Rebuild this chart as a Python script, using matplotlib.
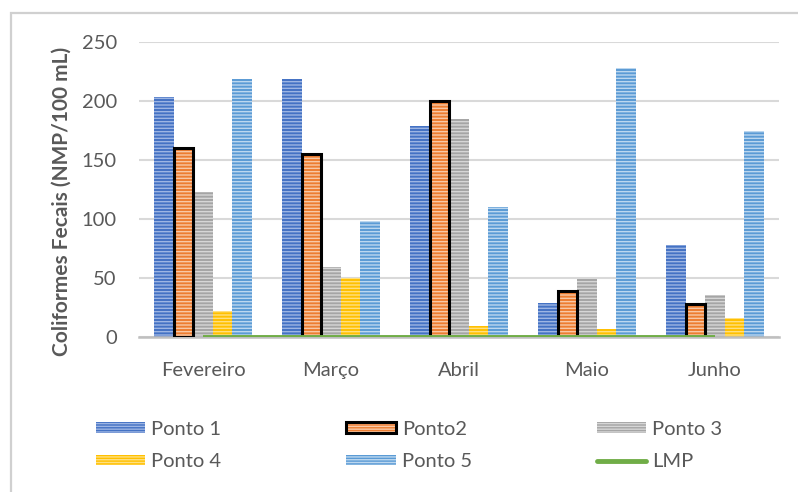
import matplotlib.pyplot as plt
import numpy as np
from matplotlib.patches import Patch, Rectangle
from matplotlib.lines import Line2D
from matplotlib.legend_handler import HandlerTuple

meses = ['Fevereiro', 'Março', 'Abril', 'Maio', 'Junho']
ponto1 = [203, 219, 179, 29, 78]
ponto2 = [160, 155, 200, 39, 28]
ponto3 = [123, 59, 185, 49, 36]
ponto4 = [22, 50, 9, 7, 16]
ponto5 = [219, 98, 110, 228, 175]
lmp = [0, 0, 0, 0, 0]

series = [
    ('Ponto 1', ponto1, '#4472c4', '#9db5e3'),
    ('Ponto2', ponto2, '#ed7d31', '#f8c8a6'),
    ('Ponto 3', ponto3, '#a5a5a5', '#d6d6d6'),
    ('Ponto 4', ponto4, '#ffc000', '#ffe080'),
    ('Ponto 5', ponto5, '#5b9bd5', '#bcd7ef'),
]

plt.rcParams['font.family'] = ['Lato', 'DejaVu Sans']
plt.rcParams['hatch.linewidth'] = 1.0
txt = '#595959'

fig = plt.figure(figsize=(7.98, 4.92), dpi=100)
ax = fig.add_axes([139/798, 1 - 337/492, 640/798, 295/492])

x = np.arange(len(meses))
w = 0.153
handles = []
for i, (name, vals, face, stripe) in enumerate(series):
    pos = x + (i - 2) * w
    ax.bar(pos, vals, w, color=face, linewidth=0, zorder=2)
    ax.bar(pos, vals, w, facecolor='none', edgecolor=stripe, hatch='-----',
           linewidth=0, zorder=3)
    h = [Patch(facecolor=face, linewidth=0),
         Patch(facecolor='none', edgecolor=stripe, hatch='------', linewidth=0)]
    if name == 'Ponto2':
        ax.bar(pos, vals, w, facecolor='none', edgecolor='black', linewidth=2.2, zorder=4)
        h.append(Patch(facecolor='none', edgecolor='black', linewidth=2.2))
    handles.append(tuple(h))

ax.plot(x, lmp, color='#70ad47', linewidth=2.8, zorder=5, solid_capstyle='butt')
handles.append(Line2D([], [], color='#70ad47', linewidth=3.5, solid_capstyle='round'))
labels = [s[0] for s in series] + ['LMP']

ax.set_xlim(-0.5, 4.5)
ax.set_ylim(0, 250)
ax.set_yticks([0, 50, 100, 150, 200, 250])
ax.set_xticks(x)
ax.set_xticklabels(meses)
ax.yaxis.grid(True, color='#d9d9d9', linewidth=1.5, zorder=0)
ax.set_axisbelow(True)
for s in ['top', 'right', 'left']:
    ax.spines[s].set_visible(False)
ax.spines['bottom'].set_color('#bfbfbf')
ax.spines['bottom'].set_linewidth(1.8)
ax.tick_params(axis='both', length=0, labelsize=14.5, labelcolor=txt)
ax.tick_params(axis='x', pad=18)
ax.tick_params(axis='y', pad=16)
ax.set_ylabel('Coliformes Fecais (NMP/100 mL)', fontsize=15, fontweight='bold',
              color=txt)
ax.yaxis.set_label_coords(-0.105, 0.46)

# legenda em 3 colunas
order = [0, 3, 1, 4, 2, 5]
fig.legend([handles[k] for k in order], [labels[k] for k in order], ncol=3,
           loc='upper left', bbox_to_anchor=(96/798, 1 - 421/492),
           frameon=False, fontsize=14.5, labelcolor=txt,
           handlelength=2.45, handleheight=0.45, handletextpad=0.3,
           columnspacing=6.2, labelspacing=0.75, borderpad=0, borderaxespad=0,
           handler_map={tuple: HandlerTuple(ndivide=1, pad=0)})

# moldura do gráfico
fig.add_artist(Rectangle((11/798, -0.05), 1.0, 1 - 13/492 + 0.05,
                         transform=fig.transFigure, fill=False,
                         edgecolor='#d0d0d0', linewidth=1.6))

fig.savefig('out.png', dpi=100)
